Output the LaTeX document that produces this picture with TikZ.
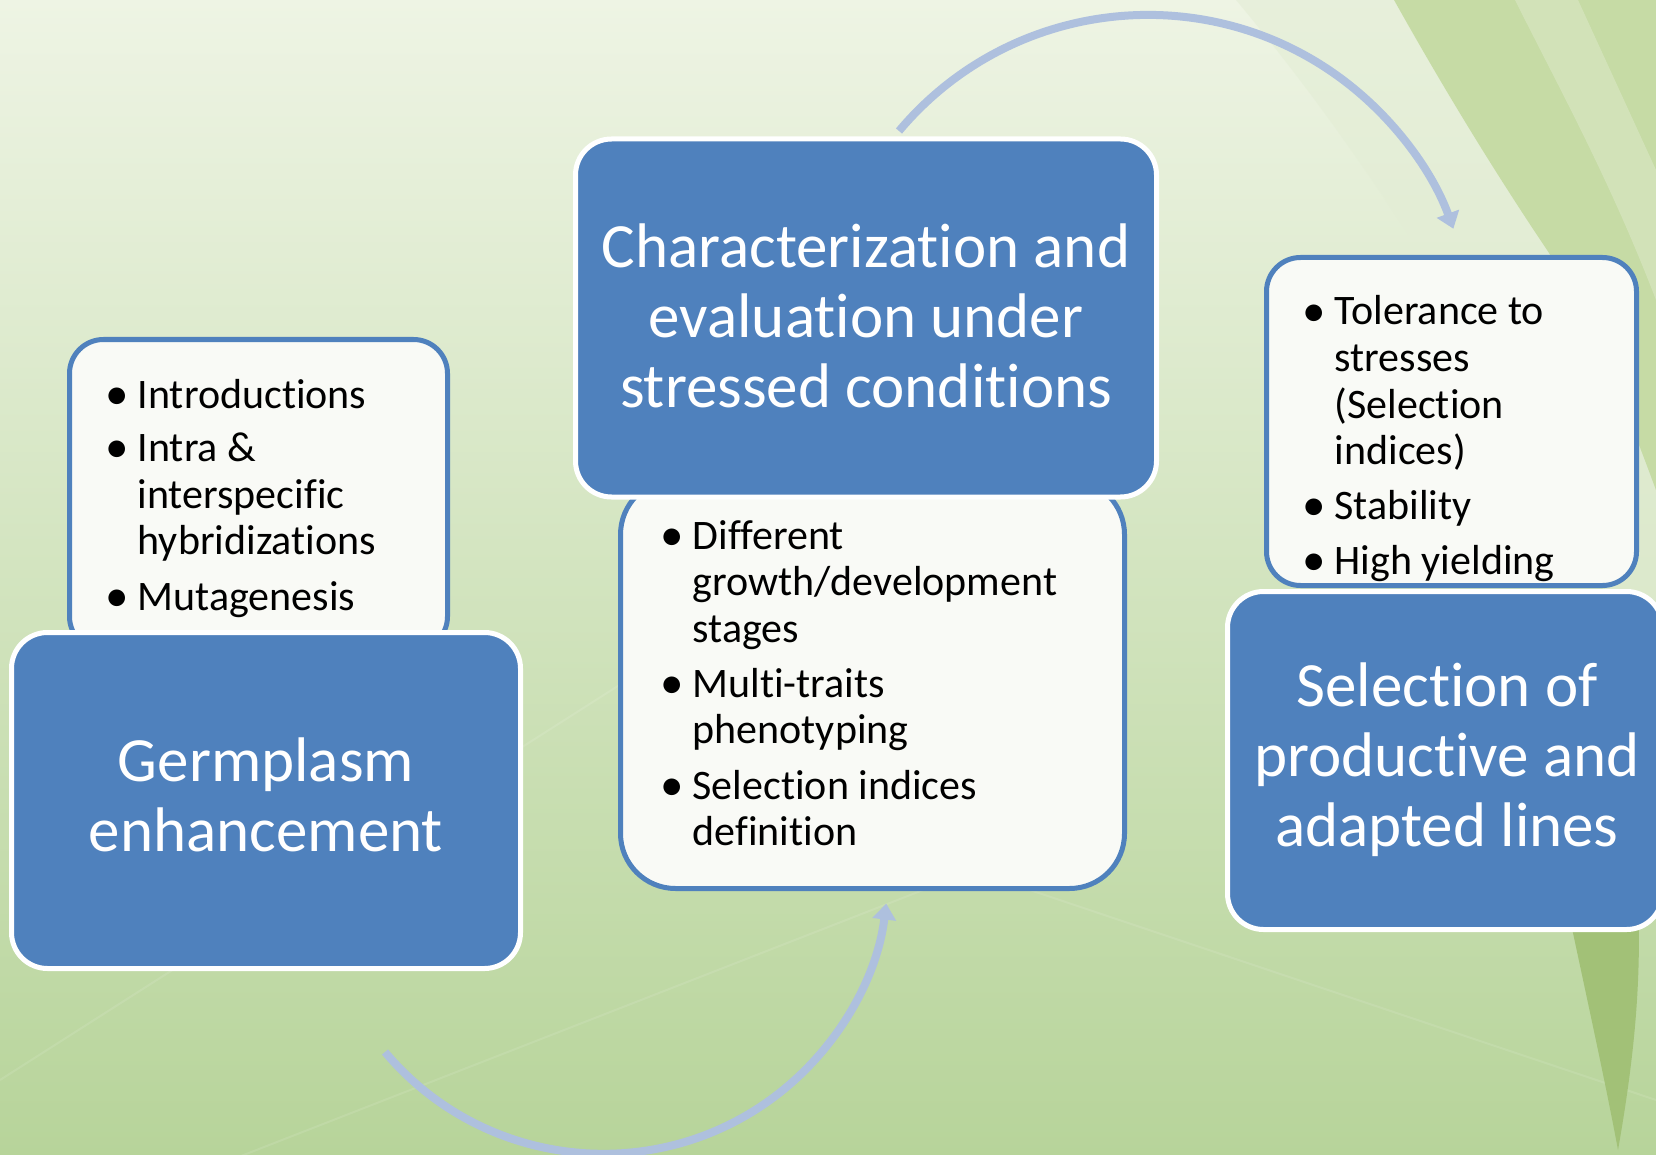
\documentclass[tikz,border=0pt]{standalone}
\usepackage{fontspec}
\usepackage{graphicx}
\setmainfont{Carlito}[Ligatures={NoCommon}]
\usetikzlibrary{arrows.meta}

\definecolor{boxblue}{HTML}{4F81BD}
\definecolor{panelfill}{HTML}{F9FAF6}
\definecolor{arccol}{HTML}{AEC0DE}
\definecolor{bgtop}{HTML}{EEF4E4}
\definecolor{bgmid}{HTML}{D5E5C1}
\definecolor{bgbot}{HTML}{B7D49A}
\definecolor{bandgreen}{HTML}{C6DBA5}
\definecolor{paleband}{HTML}{E3EDD5}
\definecolor{leafgreen}{HTML}{A2C177}

% round bullet with a fixed hanging indent
\newcommand\itemdot{\makebox[33.5pt][l]{\hspace{1.5pt}\raisebox{-0.025em}{\scalebox{1.12}{\textbullet}}}}

\begin{document}
\begin{tikzpicture}[x=1pt,y=-1pt,
  bluebox/.style={draw=white, line width=5pt, fill=boxblue, rounded corners=36pt, inner sep=0pt},
  panel/.style={draw=boxblue, line width=5pt, fill=panelfill, rounded corners=34pt, inner sep=0pt},
  headtext/.style={text=white, inner sep=0pt, anchor=base, font=\fontsize{63}{70}\selectfont},
  listtext/.style={text=black, inner sep=0pt, anchor=base west, font=\fontsize{42}{46.5}\selectfont},
  cyclearrow/.style={draw=arccol, line width=8pt, -{Triangle[length=16pt,width=23pt]}},
  streak/.style={draw=white, line width=2pt, opacity=0.1}]

\useasboundingbox (0,0) rectangle (1656,1155);
\clip (0,0) rectangle (1656,1155);

% background
\shade[top color=bgtop, middle color=bgmid, bottom color=bgbot] (0,0) rectangle (1656,1155);
\fill[paleband, opacity=0.6] (1236,0) -- (1394,0) .. controls (1450,100) and (1500,180) .. (1549,253)
  .. controls (1600,340) and (1630,420) .. (1656,490) -- (1656,700)
  .. controls (1560,480) and (1420,220) .. cycle;
\fill[bandgreen] (1394,0) -- (1656,0) -- (1656,490)
  .. controls (1630,420) and (1600,340) .. (1549,253)
  .. controls (1500,180) and (1450,100) .. cycle;
\fill[white, opacity=0.22] (1515,0) -- (1578,0) -- (1656,170) -- (1656,300)
  .. controls (1610,180) and (1560,90) .. cycle;
\draw[streak] (0,1080) -- (690,640);
\draw[streak] (0,1250) -- (1000,860);
\draw[streak] (1000,880) -- (1656,1100);
\fill[leafgreen] (1566,900) .. controls (1585,990) and (1605,1080) .. (1618,1150)
  .. controls (1632,1070) and (1642,990) .. (1638,900) -- cycle;

% cycle arrows
\coordinate (upperstart) at (899,131);
\coordinate (lowerstart) at (385,1052);
\draw[cyclearrow] (upperstart) arc[start angle=-140, end angle=-20, radius=325];
\draw[cyclearrow] (lowerstart) arc[start angle=140, end angle=7, radius=285];

% detail panels
\node[panel, minimum width=378, minimum height=311] (germlist) at (258.5,495) {};
\node[panel, rounded corners=55pt, minimum width=504, minimum height=409] (charlist) at (872.5,684) {};
\node[panel, minimum width=370, minimum height=328] (sellist) at (1451.5,421.5) {};

% stage boxes
\node[bluebox, minimum width=509, minimum height=336] (germ) at (266,800.5) {};
\node[bluebox, minimum width=581, minimum height=358] (char) at (866,318) {};
\node[bluebox, minimum width=435, minimum height=338] (sel) at (1445,760.5) {};

% stage titles
\node[headtext] (germtitle) at (266,781)
  {\begin{tabular}[t]{@{}c@{}}Germplasm\\enhancement\end{tabular}};
\node[headtext] (chartitle) at (866,268)
  {\begin{tabular}[t]{@{}c@{}}Characterization and\\evaluation under\\stressed conditions\end{tabular}};
\node[headtext] (seltitle) at (1447,706)
  {\begin{tabular}[t]{@{}c@{}}Selection of\\productive and\\adapted lines\end{tabular}};

% bullet lists
\node[listtext] (germitems) at (104,408)
  {\begin{tabular}[t]{@{}l@{}l@{}}
   \itemdot & Introductions\\[7pt]
   \itemdot & Intra \&\\
            & interspecific\\
            & hybridizations\\[9pt]
   \itemdot & Mutagenesis
   \end{tabular}};
\node[listtext] (charitems) at (659,549)
  {\begin{tabular}[t]{@{}l@{}l@{}}
   \itemdot & Different\\
            & growth/development\\
            & stages\\[8.5pt]
   \itemdot & Multi-traits\\
            & phenotyping\\[9pt]
   \itemdot & Selection indices\\
            & definition
   \end{tabular}};
\node[listtext] (selitems) at (1301,325)
  {\begin{tabular}[t]{@{}l@{}l@{}}
   \itemdot & Tolerance to\\
            & stresses\\
            & (Selection\\
            & indices)\\[8.5pt]
   \itemdot & Stability\\[8pt]
   \itemdot & High yielding
   \end{tabular}};

\end{tikzpicture}
\end{document}
